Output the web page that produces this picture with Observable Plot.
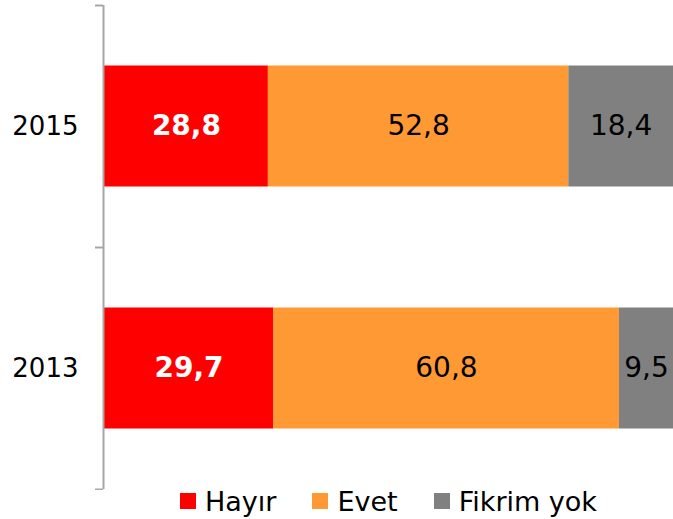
<!DOCTYPE html>
<html>
<head>
<meta charset="utf-8">
<script src="https://cdn.jsdelivr.net/npm/d3@7"></script>
<script src="https://cdn.jsdelivr.net/npm/@observablehq/plot@0.6"></script>
<style>
  html, body { margin: 0; padding: 0; background: #fff; }
  body { width: 673px; height: 519px; overflow: hidden; font-family: "DejaVu Sans", Verdana, sans-serif; }
  #legend { display: flex; justify-content: center; align-items: center; padding-left: 104px; height: 22px; font-size: 27px; color: #000; }
  #legend .item { display: flex; align-items: center; margin: 0 18px; }
  #legend .sw { width: 16px; height: 16px; margin-right: 9px; }
</style>
</head>
<body>
<div id="chart"></div>
<div id="legend"></div>
<script>
const years = ["2015", "2013"];
const seriesNames = ["Hayır", "Evet", "Fikrim yok"];
const hayir = [28.8, 29.7];
const evet = [52.8, 60.8];
const fikrimYok = [18.4, 9.5];
const colors = ["#ff0000", "#ff9933", "#808080"];

const seriesValues = [hayir, evet, fikrimYok];
const fmt = v => v.toFixed(1).replace(".", ",");

// build stacked rows
const rows = [];
years.forEach((year, i) => {
  const pos = years.length - i - 0.5;
  let cum = 0;
  seriesNames.forEach((s, k) => {
    const v = seriesValues[k][i];
    rows.push({year, pos, series: s, value: v, x1: cum, x2: cum + v});
    cum += v;
  });
});
const yearRows = years.map((year, i) => ({year, pos: years.length - i - 0.5}));
const half = 0.25;
const firstRows = rows.filter(d => d.series === seriesNames[0]);
const otherRows = rows.filter(d => d.series !== seriesNames[0]);

const chart = Plot.plot({
  width: 673,
  height: 490,
  marginLeft: 104,
  marginRight: 0,
  marginTop: 5,
  marginBottom: 1,
  style: {fontFamily: "DejaVu Sans, Verdana, sans-serif", background: "#fff"},
  x: {domain: [0, 100], axis: null},
  y: {domain: [0, years.length], label: null},
  color: {domain: seriesNames, range: colors},
  marks: [
    Plot.rect(rows, {x1: "x1", x2: "x2", y1: d => d.pos - half, y2: d => d.pos + half, fill: "series"}),
    Plot.text(firstRows, {
      x: d => (d.x1 + d.x2) / 2, y: "pos", text: d => fmt(d.value),
      fill: "#fff", fontWeight: "bold", fontSize: 28
    }),
    Plot.text(otherRows, {
      x: d => (d.x1 + d.x2) / 2, y: "pos", text: d => fmt(d.value),
      fill: "#000", fontSize: 28
    }),
    Plot.axisY({ticks: d3.range(years.length + 1), tickFormat: () => "", tickSize: 8, color: "#a6a6a6", strokeWidth: 2, dx: -1, label: null}),
    Plot.ruleX([0], {dx: -1, stroke: "#a6a6a6", strokeWidth: 2}),
    Plot.text(yearRows, {frameAnchor: "left", y: "pos", text: "year", textAnchor: "end", dx: -26, fontSize: 26, fill: "#000"})
  ]
});
document.getElementById("chart").appendChild(chart);

const legend = document.getElementById("legend");
seriesNames.forEach((s, k) => {
  const item = document.createElement("div");
  item.className = "item";
  const sw = document.createElement("span");
  sw.className = "sw";
  sw.style.background = colors[k];
  const label = document.createElement("span");
  label.textContent = s;
  item.appendChild(sw);
  item.appendChild(label);
  legend.appendChild(item);
});
</script>
</body>
</html>
